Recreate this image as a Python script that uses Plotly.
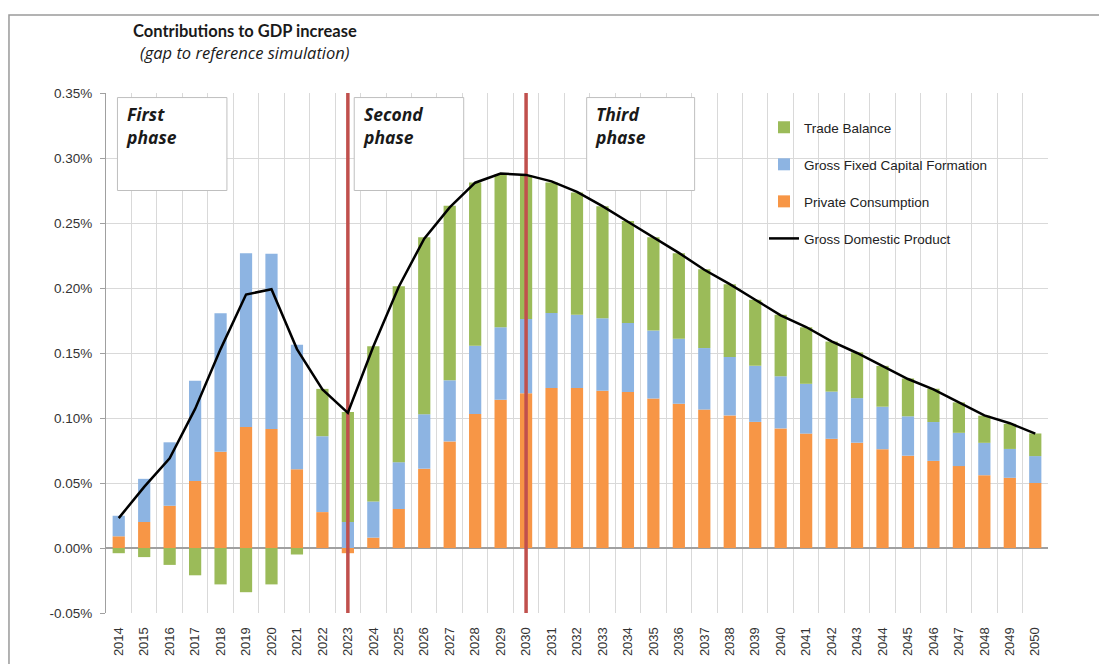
import plotly.graph_objects as go

years = list(range(2014, 2051))

# contributions (percentage points of GDP gap, in %)
private_consumption = [0.009, 0.020, 0.0325, 0.0515, 0.074, 0.093, 0.0915, 0.0606, 0.0276, -0.004,
                       0.008, 0.030, 0.061, 0.082, 0.103, 0.114, 0.119, 0.123, 0.123, 0.121,
                       0.120, 0.115, 0.111, 0.1065, 0.102, 0.097, 0.092, 0.088, 0.084, 0.081,
                       0.076, 0.071, 0.067, 0.063, 0.056, 0.054, 0.050]
gross_fixed_capital = [0.0158, 0.0332, 0.0488, 0.0772, 0.1065, 0.1338, 0.1348, 0.0957, 0.0584, 0.020,
                       0.0278, 0.036, 0.0419, 0.047, 0.0525, 0.0558, 0.0571, 0.0578, 0.0564, 0.0557,
                       0.0531, 0.0523, 0.050, 0.0473, 0.045, 0.0431, 0.0401, 0.0383, 0.0363, 0.0343,
                       0.0327, 0.0303, 0.0299, 0.0256, 0.0249, 0.0222, 0.0207]
trade_balance = [-0.004, -0.007, -0.013, -0.021, -0.028, -0.034, -0.028, -0.005, 0.0364, 0.0847,
                 0.1194, 0.1354, 0.1362, 0.1343, 0.1257, 0.1175, 0.1106, 0.1004, 0.0941, 0.0861,
                 0.0784, 0.0718, 0.0658, 0.0606, 0.0558, 0.0509, 0.0473, 0.0435, 0.0385, 0.0352,
                 0.0314, 0.0291, 0.0256, 0.0234, 0.0209, 0.0193, 0.0174]
gdp = [0.023, 0.047, 0.069, 0.107, 0.153, 0.195, 0.199, 0.153, 0.122, 0.104,
       0.155, 0.201, 0.238, 0.262, 0.281, 0.288, 0.287, 0.282, 0.274, 0.263,
       0.251, 0.239, 0.227, 0.214, 0.203, 0.191, 0.179, 0.170, 0.159, 0.150,
       0.140, 0.130, 0.122, 0.112, 0.102, 0.096, 0.088]

phase_starts = [2023, 2030]
phase_labels = ["First<br>phase", "Second<br>phase", "Third<br>phase"]
y_ticks = [-0.05, 0.00, 0.05, 0.10, 0.15, 0.20, 0.25, 0.30, 0.35]

C_PC = "#F79646"
C_GF = "#8DB4E2"
C_TB = "#9BBB59"
C_RED = "#C0504D"
GRID = "#D9D9D9"
AXIS = "#A0A0A0"
FONT = "Liberation Sans"

y_min, y_max = y_ticks[0], y_ticks[-1]
x_lo, x_hi = years[0] - 0.5, years[-1] + 0.5

fig = go.Figure()
fig.add_trace(go.Bar(x=years, y=private_consumption, name="Private Consumption",
                     marker=dict(color=C_PC, line=dict(width=0)), width=0.48,
                     legendrank=3, legendgroup="pc"))
fig.add_trace(go.Bar(x=years, y=gross_fixed_capital, name="Gross Fixed Capital Formation",
                     marker=dict(color=C_GF, line=dict(width=0)), width=0.48,
                     legendrank=2, legendgroup="gf"))
fig.add_trace(go.Bar(x=years, y=trade_balance, name="Trade Balance",
                     marker=dict(color=C_TB, line=dict(width=0)), width=0.48,
                     legendrank=1, legendgroup="tb"))
for ps in phase_starts:
    fig.add_trace(go.Scatter(x=[ps, ps], y=[y_min, y_max], mode="lines",
                             line=dict(color=C_RED, width=3.5), showlegend=False,
                             hoverinfo="skip"))
fig.add_trace(go.Scatter(x=years, y=gdp, name="Gross Domestic Product", mode="lines",
                         line=dict(color="black", width=2.5), legendrank=4, legendgroup="gdp"))

# phase boxes
box_x = [(2013.95, 2018.25), (2023.25, 2027.55), (2032.38, 2036.62)]
for (bx0, bx1), lab in zip(box_x, phase_labels):
    fig.add_shape(type="rect", xref="x", yref="y", x0=bx0, x1=bx1, y0=0.275, y1=0.3465,
                  fillcolor="white", line=dict(color="#BFBFBF", width=1), layer="above")
    fig.add_annotation(xref="x", yref="y", x=bx0 + 0.25, y=0.3445, xanchor="left", yanchor="top",
                       text="<b><i>" + lab + "</i></b>", showarrow=False, align="left",
                       font=dict(family="Open Sans", size=17.5, color="#1a1a1a"))

# outer chart border
fig.add_shape(type="rect", xref="paper", yref="paper", x0=-0.103, x1=1.2, y0=-0.5, y1=1.15,
              line=dict(color="#9A9A9A", width=1.5), fillcolor="rgba(0,0,0,0)", layer="below")

fig.add_annotation(xref="paper", yref="paper", x=0.1476, y=1.119, showarrow=False,
                   xanchor="center", yanchor="middle",
                   text="<b>Contributions to GDP increase</b>",
                   font=dict(family="Lato", size=16.5, color="#1a1a1a"))
fig.add_annotation(xref="paper", yref="paper", x=0.1476, y=1.078, showarrow=False,
                   xanchor="center", yanchor="middle",
                   text="<i>(gap to reference simulation)</i>",
                   font=dict(family="Open Sans", size=16.5, color="#1a1a1a"))

fig.update_layout(
    width=1107, height=664,
    margin=dict(l=98, r=67, t=85, b=59, autoexpand=False),
    paper_bgcolor="white", plot_bgcolor="white",
    barmode="relative", bargap=0.5,
    font=dict(family=FONT, size=13, color="#333333"),
    legend=dict(x=0.6985, y=0.9635, xanchor="left", yanchor="top", bgcolor="rgba(0,0,0,0)",
                font=dict(family=FONT, size=13.5, color="#222222"), tracegroupgap=16.5,
                traceorder="grouped"),
    showlegend=True,
)
fig.update_xaxes(range=[x_lo, x_hi], tickmode="array", tickvals=years,
                 ticktext=[str(y) for y in years], tickangle=-90, automargin=False,
                 showgrid=False, zeroline=False, showline=False,
                 ticks="outside", ticklen=8, tickcolor="rgba(0,0,0,0)",
                 tickfont=dict(family=FONT, size=13, color="#333333"),
                 minor=dict(tickmode="array", tickvals=[y + 0.5 for y in years],
                            showgrid=True, gridcolor=GRID, gridwidth=1, ticks=""))
fig.update_yaxes(range=[y_min, y_max], tickmode="array", tickvals=y_ticks,
                 ticktext=[f"{v:.2f}%" for v in y_ticks], automargin=False,
                 showgrid=True, gridcolor=GRID, gridwidth=1,
                 zeroline=True, zerolinecolor=AXIS, zerolinewidth=1.5,
                 showline=True, linecolor=AXIS, linewidth=1,
                 ticks="outside", ticklen=5, tickcolor=AXIS, ticklabelstandoff=5,
                 tickfont=dict(family=FONT, size=13.5, color="#333333"))

fig.write_html("out.html")
